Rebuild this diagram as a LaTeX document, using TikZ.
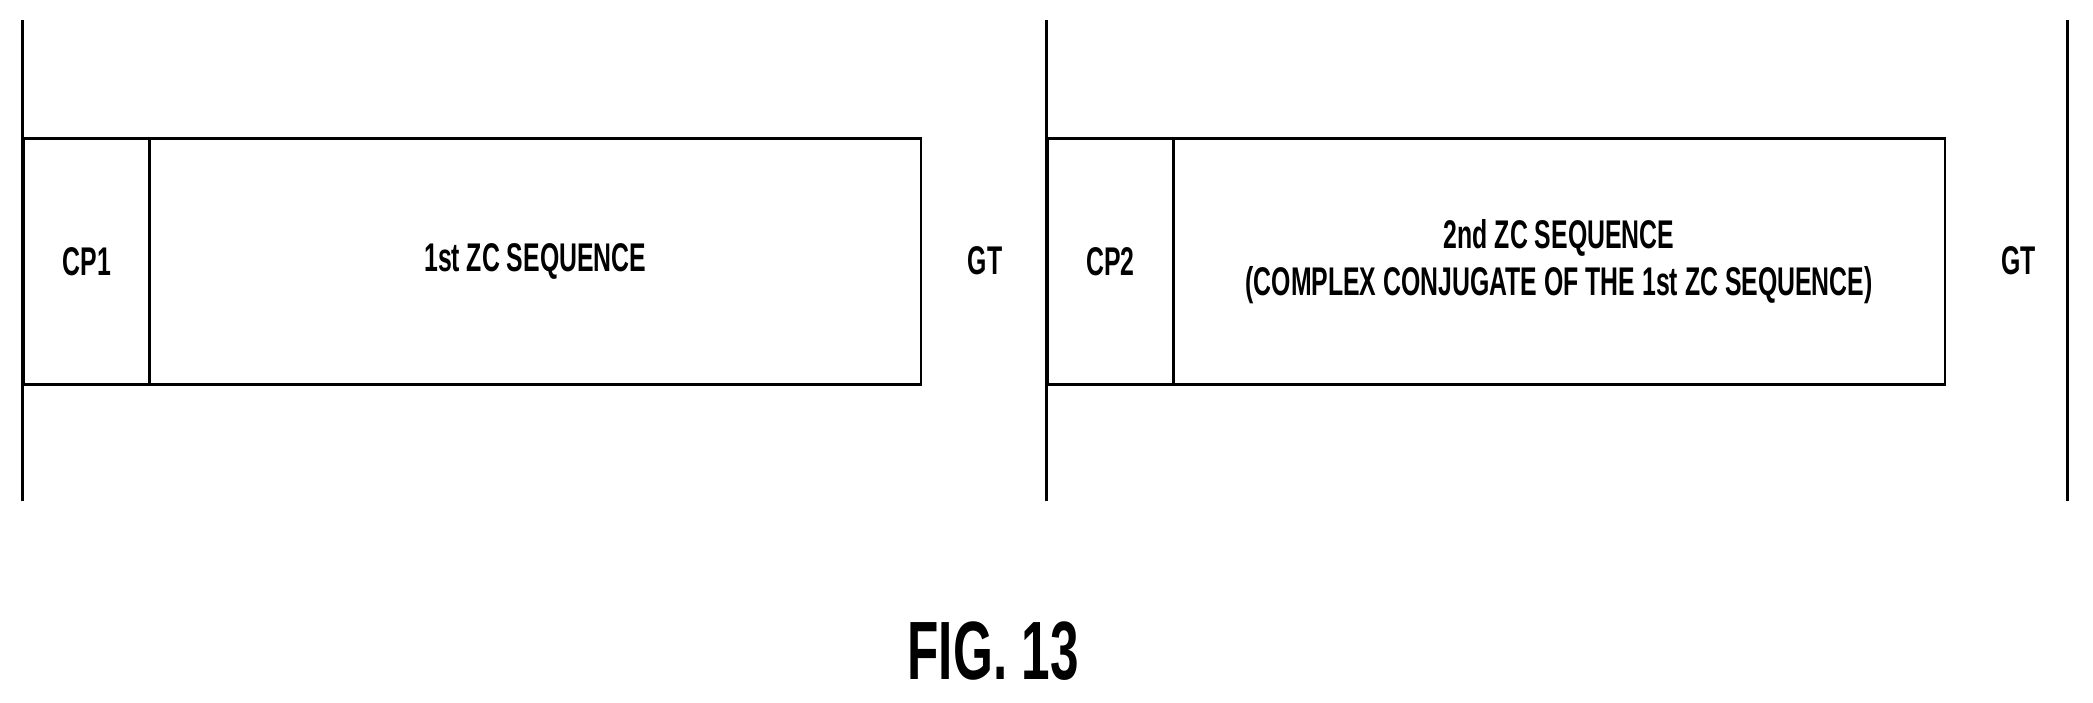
\documentclass[tikz,border=0pt]{standalone}
\usepackage{fontspec}
\setmainfont{Liberation Sans}
\usepackage{graphicx}
\begin{document}
\begin{tikzpicture}[x=1pt,y=-1pt,
  ln/.style={line width=2pt,black},
  box/.style={draw,line width=2pt,minimum height=184pt,inner sep=0pt,anchor=north west},
  lab/.style={font=\fontsize{30}{36}\selectfont\bfseries,align=center}]
\useasboundingbox (0,0) rectangle (1568,526);
\node[box,minimum width=94pt] (cp1) at (17,103) {};
\node[box,minimum width=578pt] (s1) at (111,103) {};
\node[box,minimum width=94pt] (cp2) at (784,103) {};
\node[box,minimum width=578pt] (s2) at (878,103) {};
\coordinate (a1) at (17,15); \coordinate (a2) at (17,375);
\coordinate (b1) at (784,15); \coordinate (b2) at (784,375);
\coordinate (c1) at (1549,15); \coordinate (c2) at (1549,375);
\draw[ln] (a1)--(a2); \draw[ln] (b1)--(b2); \draw[ln] (c1)--(c2);
\node[lab] (t1) at (cp1.center) {\scalebox{0.62}[1]{CP1}};
\node[lab] (t2) at (s1.center) {\scalebox{0.62}[1]{1st ZC SEQUENCE}};
\node[lab] (g1) at (738,195) {\scalebox{0.62}[1]{GT}};
\node[lab] (t3) at (cp2.center) {\scalebox{0.62}[1]{CP2}};
\node[lab] (t4) at (s2.center) {\scalebox{0.62}[1]{\shortstack{2nd ZC SEQUENCE\\[4pt](COMPLEX CONJUGATE OF THE 1st ZC SEQUENCE)}}};
\node[lab] (g2) at (1512,195) {\scalebox{0.62}[1]{GT}};
\node[font=\fontsize{62}{70}\selectfont\bfseries] (fig) at (744,488) {\scalebox{0.62}[1]{FIG. 13}};
\end{tikzpicture}
\end{document}
